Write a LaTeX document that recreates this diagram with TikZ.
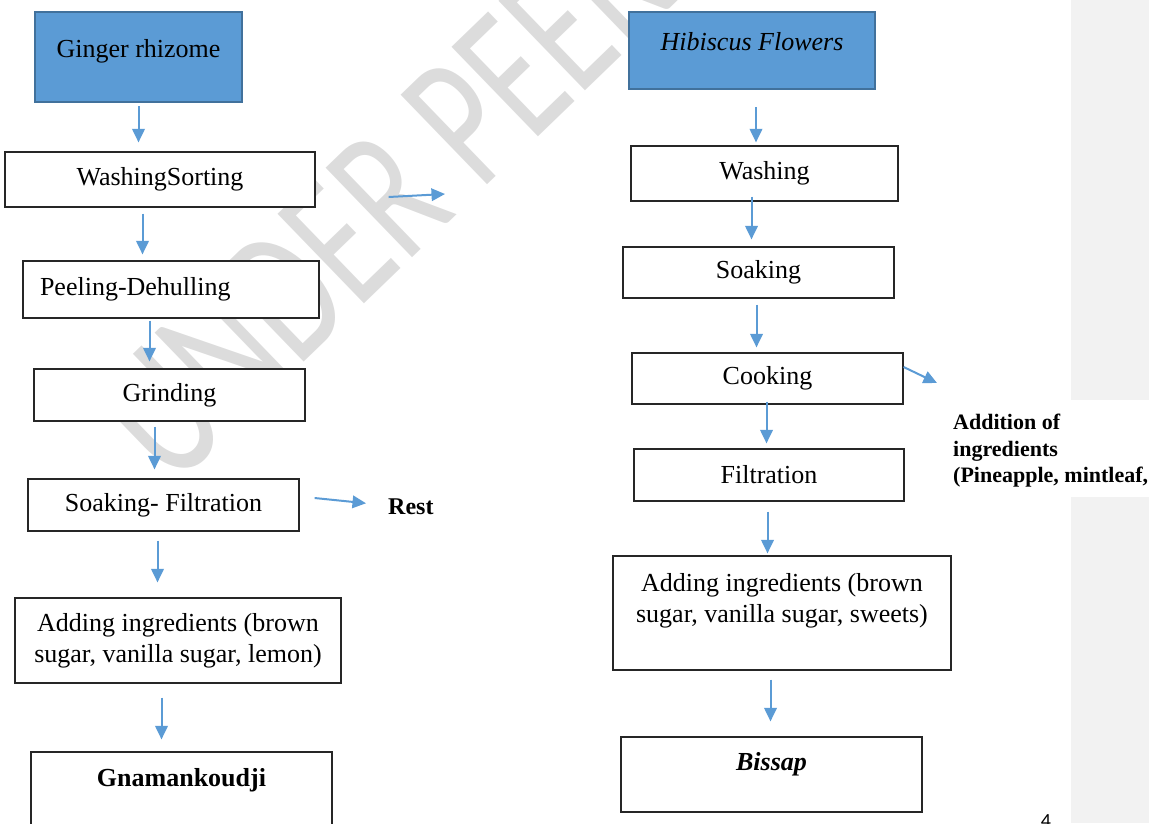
\documentclass[tikz,border=0pt]{standalone}
\usepackage{fontspec}
\setmainfont{Liberation Serif}
\newfontfamily\wmfont{Carlito}
\newfontfamily\pgnumfont{Carlito}
\usetikzlibrary{arrows.meta}
\definecolor{flowblue}{RGB}{91,155,213}
\definecolor{boxblueline}{RGB}{65,113,156}
\definecolor{wmgray}{RGB}{220,220,220}
\definecolor{panelgray}{RGB}{242,242,242}
\begin{document}
\begin{tikzpicture}[x=1pt,y=-1pt,
  box/.style={draw=black!85, line width=1.2pt, fill=white, inner sep=0pt,
    font=\fontsize{26}{31}\selectfont},
  startbox/.style={box, draw=boxblueline, line width=2.5pt, fill=flowblue},
  flow/.style={draw=flowblue, line width=2pt, -{Triangle[length=13.5pt,width=12.5pt]}},
  sidetext/.style={inner sep=0pt, font=\bfseries\fontsize{24}{28}\selectfont},
  ]
\useasboundingbox (0,0) rectangle (1149,823);
% grey margin panel
\fill[panelgray] (1071,0) rectangle (1149,400);
\fill[panelgray] (1071,497) rectangle (1149,823);
% watermark
\node[font=\wmfont\fontsize{194}{194}\selectfont, text=wmgray, rotate=44, xscale=0.7,
  anchor=base west, inner sep=0pt] (wm) at (172,490) {UNDER PEER REVIEW};

% left column
\node[startbox, minimum width=207pt, minimum height=90pt, text height=18pt, text depth=18pt]
  (ginger) at (138.5,57) {Ginger rhizome};
\node[box, minimum width=310pt, minimum height=55pt] (wash) at (160,179.5) {WashingSorting};
\node[box, minimum width=296pt, minimum height=57pt, inner xsep=17pt, text width=262pt, align=left]
  (peel) at (171,289.5) {Peeling-Dehulling};
\node[box, minimum width=271pt, minimum height=52pt] (grind) at (169.5,395) {Grinding};
\node[box, minimum width=271pt, minimum height=52pt] (soak) at (163.5,505) {Soaking- Filtration};
\node[box, minimum width=326pt, minimum height=85pt, align=center] (addl) at (178,640.5)
  {Adding ingredients (brown\\sugar, vanilla sugar, lemon)};
\node[box, minimum width=301pt, minimum height=88pt, text height=18pt, text depth=38pt,
  font=\bfseries\fontsize{26}{31}\selectfont] (gnam) at (181.5,796) {Gnamankoudji};

% right column
\node[startbox, minimum width=246pt, minimum height=77pt, text height=18pt, text depth=19pt,
  font=\itshape\fontsize{26}{31}\selectfont] (hib) at (752,50.5) {Hibiscus Flowers};
\node[box, minimum width=267pt, minimum height=55pt] (wash2) at (764.5,173.5) {Washing};
\node[box, minimum width=271pt, minimum height=51pt] (soak2) at (758.5,272.5) {Soaking};
\node[box, minimum width=271pt, minimum height=51pt] (cook) at (767.5,378.5) {Cooking};
\node[box, minimum width=270pt, minimum height=52pt] (filt) at (769,475) {Filtration};
\node[box, minimum width=338pt, minimum height=114pt, align=center] (addr) at (782,613)
  {Adding ingredients (brown\\sugar, vanilla sugar, sweets)\\\mbox{}};
\node[box, minimum width=301pt, minimum height=75pt, text height=18pt, text depth=27pt,
  font=\bfseries\itshape\fontsize{26}{31}\selectfont] (bis) at (771.5,774.5) {Bissap};

% side texts
\node[sidetext, anchor=base west] (rest) at (388,514) {Rest};
\node[inner sep=0pt, font=\bfseries\fontsize{22}{26.5}\selectfont, align=left, anchor=north west]
  (addn) at (953,414) {Addition of\\ingredients\\(Pineapple, mintleaf,};
\node[inner sep=0pt, font=\pgnumfont\fontsize{20}{24}\selectfont, anchor=base] (pg) at (1046,827) {4};

\coordinate (washout) at (445,194);
\coordinate (cookout) at (937,383);

% left arrows
\draw[flow, shorten <=3pt, shorten >=9pt] (ginger.south) -- (ginger.south |- wash.north);
\draw[flow, shorten <=6pt, shorten >=6pt] ([xshift=-17.5pt]wash.south) -- ([xshift=-17.5pt]wash.south |- peel.north);
\draw[flow, shorten <=2pt, shorten >=7pt] ([xshift=-21.5pt]peel.south) -- ([xshift=-21.5pt]peel.south |- grind.north);
\draw[flow, shorten <=5pt, shorten >=9pt] ([xshift=-15pt]grind.south) -- ([xshift=-15pt]grind.south |- soak.north);
\draw[flow, shorten <=9pt, shorten >=15pt] ([xshift=-6pt]soak.south) -- ([xshift=-6pt]soak.south |- addl.north);
\draw[flow, shorten <=14pt, shorten >=12pt] ([xshift=-16.5pt]addl.south) -- ([xshift=-16.5pt]addl.south |- gnam.north);
\draw[flow] ([xshift=73pt,yshift=-17.5pt]wash.east) -- (washout);
\draw[flow] ([xshift=15pt,yshift=7pt]soak.east) -- ([xshift=-22pt,yshift=3pt]rest.west);

% right arrows
\draw[flow, shorten <=17pt, shorten >=3pt] ([xshift=4pt]hib.south) -- ([xshift=4pt]hib.south |- wash2.north);
\draw[flow, shorten <=-5pt, shorten >=7pt] ([xshift=-13pt]wash2.south) -- ([xshift=-13pt]wash2.south |- soak2.north);
\draw[flow, shorten <=6pt, shorten >=5pt] ([xshift=-2pt]soak2.south) -- ([xshift=-2pt]soak2.south |- cook.north);
\draw[flow, shorten <=-3pt, shorten >=5pt] ([xshift=-1pt]cook.south) -- ([xshift=-1pt]cook.south |- filt.north);
\draw[flow, shorten <=10pt, shorten >=2pt] ([xshift=-1.5pt]filt.south) -- ([xshift=-1.5pt]filt.south |- addr.north);
\draw[flow, shorten <=9pt, shorten >=15pt] ([xshift=-11.5pt]addr.south) -- ([xshift=-11.5pt]addr.south |- bis.north);
\draw[flow] ([yshift=11.5pt]cook.east) -- (cookout);
\end{tikzpicture}
\end{document}
